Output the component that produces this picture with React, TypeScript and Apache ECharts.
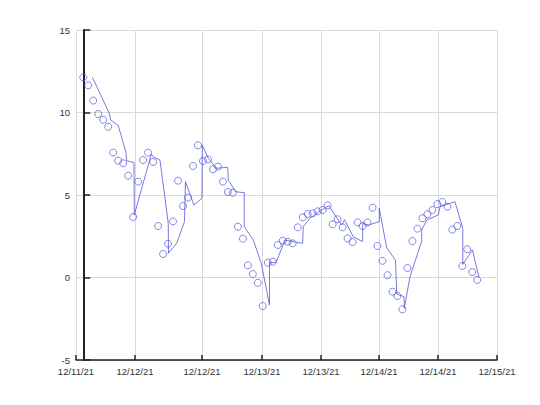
import React, { useEffect, useRef } from "react";
import * as echarts from "echarts";

// Observations (hourly steps, x = step index)
const obsValues: number[] = [
  12.13, 11.65, 10.72, 9.91, 9.56, 9.14, 7.57, 7.08, 6.92, 6.17,
  3.67, 5.81, 7.12, 7.57, 7.0, 3.12, 1.42, 2.05, 3.4, 5.87,
  4.33, 4.84, 6.76, 8.01, 7.06, 7.16, 6.56, 6.72, 5.81, 5.18,
  5.14, 3.08, 2.35, 0.74, 0.21, -0.32, -1.73, 0.9, 0.96, 1.97,
  2.23, 2.17, 2.07, 3.04, 3.65, 3.85, 3.89, 4.01, 4.09, 4.37,
  3.22, 3.53, 3.04, 2.37, 2.15, 3.34, 3.12, 3.34, 4.23, 1.91,
  1.01, 0.14, -0.86, -1.12, -1.93, 0.58, 2.21, 2.96, 3.59, 3.83,
  4.09, 4.45, 4.58, 4.29, 2.9, 3.12, 0.7, 1.71, 0.33, -0.15,
];

// Line series: x positions (in step units) and values
const lineX: number[] = [
  1.84, 5.21, 5.49, 7.02, 8.56, 8.7, 10.17, 10.23, 13.64, 14.04,
  15.38, 17.04, 17.08, 18.73, 20.29, 20.49, 22.2, 23.8, 23.86, 25.07,
  26.75, 28.96, 29.08, 30.56, 32.28, 32.28, 34.09, 35.69, 37.34, 37.34,
  38.64, 40.45, 43.99, 44.11, 45.46, 47.8, 49.23, 51.81, 52.38, 54.14,
  56.03, 56.03, 57.15, 59.35, 59.35, 60.84, 62.6, 62.86, 64.31, 64.37,
  65.51, 67.86, 67.86, 68.86, 71.19, 71.53, 74.53, 76.1, 76.1, 78.04,
  79.35,
];
const lineY: number[] = [
  12.13, 9.95, 9.55, 9.2, 7.57, 7.08, 6.96, 3.79, 7.48, 7.3,
  7.12, 3.28, 1.47, 2.07, 3.38, 5.81, 4.39, 4.8, 8.03, 7.22,
  6.62, 6.68, 5.9, 5.2, 5.14, 3.08, 2.27, 0.86, -1.67, 0.9,
  0.9, 2.27, 2.07, 3.08, 3.6, 4.09, 4.35, 3.18, 3.5, 2.47,
  2.17, 3.28, 3.18, 3.38, 4.19, 1.8, 1.06, -1.0, -1.16, -1.87,
  0.05, 2.2, 2.88, 3.48, 3.79, 4.29, 4.59, 2.98, 0.8, 1.67,
  0.0,
];

// X axis tick positions (step units) and their labels
const xTickValues: number[] = [-1.46, 10.37, 23.8, 35.83, 47.66, 59.29, 71.12, 82.96];
const xTickLabels: string[] = [
  "12/11/21", "12/12/21", "12/12/21", "12/13/21",
  "12/13/21", "12/14/21", "12/14/21", "12/15/21",
];
const yMin = -5;
const yMax = 15;
const yInterval = 5;

const BLUE = "#5555d8";

export default function App() {
  const ref = useRef<HTMLDivElement>(null);
  useEffect(() => {
    if (!ref.current) return;
    const chart = echarts.init(ref.current, undefined, { renderer: "svg" });
    const labelFor = (v: number) => {
      let best = 0;
      let bd = Infinity;
      xTickValues.forEach((t, i) => {
        const d = Math.abs(t - v);
        if (d < bd) {
          bd = d;
          best = i;
        }
      });
      return xTickLabels[best];
    };
    chart.setOption({
      animation: false,
      backgroundColor: "#ffffff",
      grid: { left: 76, right: 43, top: 30, bottom: 45, containLabel: false },
      xAxis: {
        type: "value",
        min: xTickValues[0],
        max: xTickValues[xTickValues.length - 1],
        axisLine: { show: true, onZero: false, lineStyle: { color: "#222", width: 1.5 } },
        axisTick: {
          show: true,
          inside: true,
          length: 5,
          customValues: xTickValues,
          lineStyle: { color: "#222", width: 1.5 },
        },
        axisLabel: {
          customValues: xTickValues,
          formatter: (v: number) => labelFor(v),
          color: "#333",
          fontFamily: "Liberation Sans",
          fontSize: 9.5,
          margin: 6,
          showMinLabel: true,
          showMaxLabel: true,
        },
        splitLine: { show: true, lineStyle: { color: "#d9d9d9", width: 1 } },
      },
      yAxis: {
        type: "value",
        min: yMin,
        max: yMax,
        interval: yInterval,
        axisLine: { show: true, lineStyle: { color: "#222", width: 2 } },
        axisTick: { show: true, inside: true, length: 7, lineStyle: { color: "#222", width: 1.5 } },
        axisLabel: {
          color: "#333",
          fontFamily: "Liberation Sans",
          fontSize: 9.5,
          margin: 6,
        },
        splitLine: { show: true, lineStyle: { color: "#d9d9d9", width: 1 } },
      },
      series: [
        {
          type: "line",
          data: lineX.map((x, i) => [x, lineY[i]]),
          showSymbol: false,
          symbol: "none",
          lineStyle: { color: BLUE, width: 0.8 },
          z: 2,
        },
        {
          type: "scatter",
          data: obsValues.map((v, i) => [i, v]),
          symbol: "circle",
          symbolSize: 7,
          itemStyle: { color: "rgba(255,255,255,0)", borderColor: BLUE, borderWidth: 0.9 },
          z: 3,
        },
      ],
    });
    return () => chart.dispose();
  }, []);
  return (
    <div
      ref={ref}
      style={{ position: "fixed", left: 0, top: 0, width: 540, height: 405 }}
    />
  );
}
